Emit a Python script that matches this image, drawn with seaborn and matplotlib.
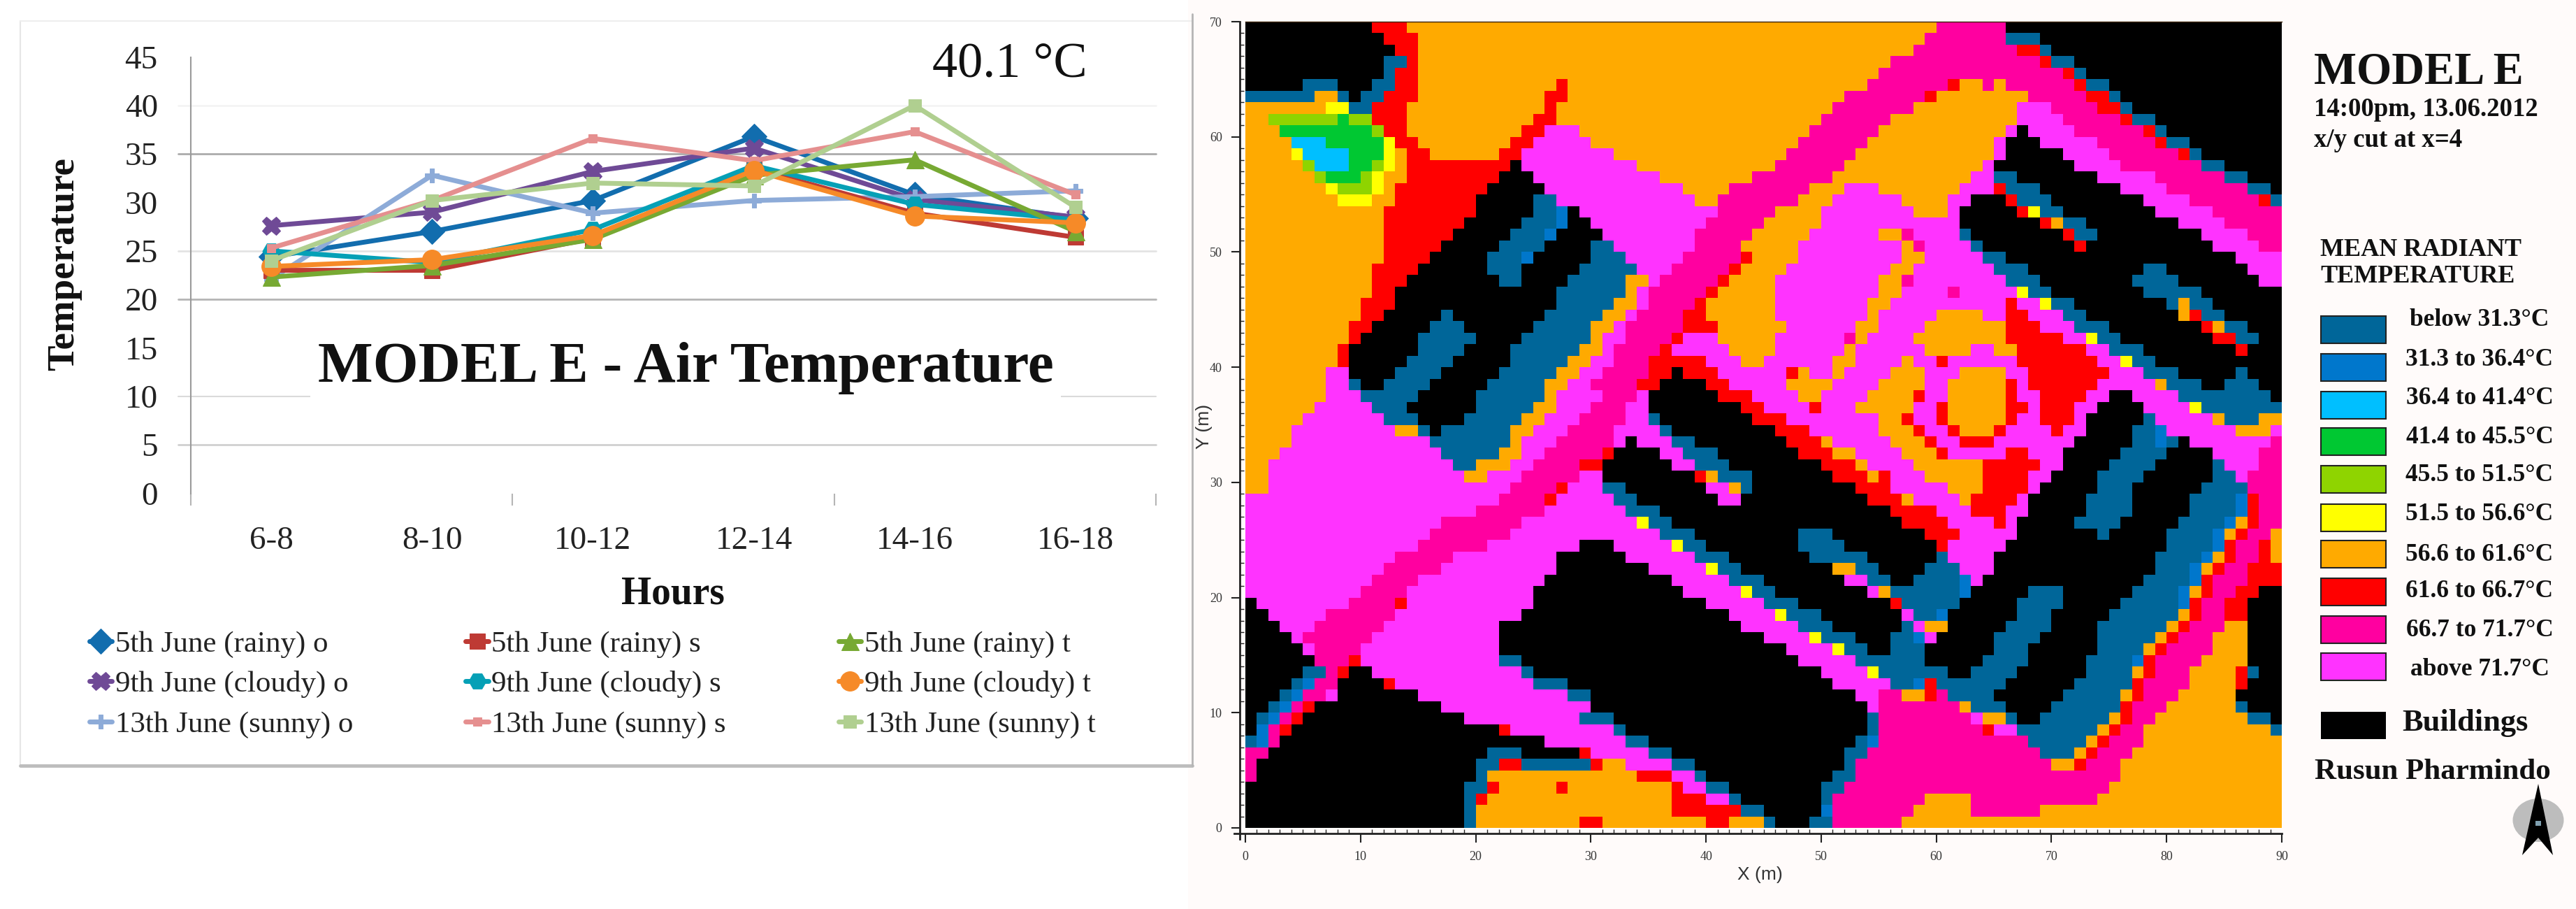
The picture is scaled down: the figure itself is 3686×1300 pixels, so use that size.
import re
import numpy as np
import seaborn as sns
import matplotlib
matplotlib.use('Agg')
import matplotlib.pyplot as plt
from matplotlib.colors import ListedColormap
from matplotlib.lines import Line2D
from matplotlib.patches import Rectangle, Ellipse, Polygon
from matplotlib.ticker import FixedLocator, MultipleLocator

W, H = 3686, 1300

# left chart data
HOURS = ['6-8', '8-10', '10-12', '12-14', '14-16', '16-18']
RAINY_O = [24.4, 27.0, 30.2, 36.8, 30.8, 28.4]
RAINY_S = [23.0, 23.0, 26.3, 33.5, 28.9, 26.4]
RAINY_T = [22.3, 23.5, 26.2, 32.8, 34.4, 27.0]
CLOUDY_O = [27.6, 29.0, 33.2, 35.6, 30.3, 28.5]
CLOUDY_S = [25.0, 23.8, 27.2, 33.8, 29.8, 28.2]
CLOUDY_T = [23.4, 24.1, 26.6, 33.3, 28.6, 27.9]
SUNNY_O = [22.1, 32.8, 28.9, 30.2, 30.6, 31.2]
SUNNY_S = [25.3, 30.2, 36.6, 34.3, 37.3, 30.8]
SUNNY_T = [24.0, 30.2, 32.0, 31.7, 40.0, 29.5]

SERIES_LABELS = ['5th June (rainy) o', '9th June (cloudy) o', '13th June (sunny) o',
                 '5th June (rainy) s', '9th June (cloudy) s', '13th June (sunny) s',
                 '5th June (rainy) t', '9th June (cloudy) t', '13th June (sunny) t']
SERIES_VALUES = [RAINY_O, CLOUDY_O, SUNNY_O, RAINY_S, CLOUDY_S, SUNNY_S, RAINY_T, CLOUDY_T, SUNNY_T]
SERIES_COLORS = ['#126DAE', '#6F4A96', '#8DABD8', '#BE3A34', '#05A0B6', '#E58F8F', '#77A933', '#F68A28', '#B0CF90']
SERIES_MARKERS = ['D', 'X', 'P', 's', 'H', 's', '^', 'o', 's']
SERIES_SIZES = [18, 19, 15, 16, 18, 9, 18, 20, 13]

# map cells, run length coded, one string per row from top to bottom
MAP_TOP_LEFT = [
    '11K3R16O', '12K3R15O', '13K2R15O', '12K2B1R15O', '12K1B2R15O', '5K3B3K2B2R12O1R2O',
    '6B2O1B1K2B3R11O2R2O', '7O2Y2B3R12O1R3O', '2O6L1G2L3R11O2R3O', '3O8G1L2R10O2R3P1O',
    '4O3C5G1Y2R8O2R5P', '4O1Y4C3G1Y1O2R6O2R6P', '5O1L3C2G1L1Y1O9R1K6P', '6O1L3G1L1Y2O8R3K5P',
    '7O1Y3L1Y1O8R5K4P', '8O3Y2O7R5K2B3P', '12O8R5K2B1A1K1P', '12O7R5K3B1A2K', '12O6R5K3B1A3K',
    '12O5R5K4B4K', '12O4R5K3B1A5K', '11O4R6K3B5K1B', '11O3R8K2B4K2B', '11O2R14K3B', '10O3R14K3B',
    '10O2R5K1B8K4B', '9O2R5K3B6K5B', '9O1R5K5B4K6B', '8O1R6K4B4K6B1O', '8O1R5K4B5K5B2O',
    '7O2P4K4B5K5B2O1P', '7O2P1B2K4B5K5B2O2P', '7O3P5B5K6B1O3P', '6O5P3B6K5B2O3P', '5O7P3B4K5B2O3P1M',
]
MAP_TOP_MID = [
    '30O', '29O1M', '28O2M', '26O4M', '25O5M', '24O6M', '22O7M1R', '21O7M2O', '20O6M4O', '19O6M5O',
    '18O6M6O', '2P15O6M7O', '4P12O6M8O', '6P8O7M9O', '8P4O7M3O3P5O', '9P2O7M3O6P3O', '11P5M4O8P2O',
    '10P5M5O10P', '1K8P5M5O6P2O1M2P', '2B7P4M5O9P1O1M1P', '3B5P5M1R4O9P2O1P', '4B3P5M1R4O9P2O2P',
    '3B2O1P5M1R4O9P2O1M2P', '3B1O1P5M1R5O9P2O3P', '2B2O1P4M1R6O8P2O4P', '1B2O1P4M2R6O8P1O5P',
    '2O1P5M3R6O6P2O4P1O', '1O2P4M1R3P5O6P1M1O4P2O', '1O1P4M1R5P4O6P1O6P1O', '2P3M5R3P2O6P2O4P1O2P',
    '1P4M2R1K3R6P1R1O2P1O4P3O1P', '4M2R4K2R5P4O4P4O1P', '1P3M1P6K3R4P2O4P4O1R1P',
    '3M2P8K2R4P1R3P5O2P', '3M2P1B8K3R8P2O1R2P',
]
MAP_TOP_RIGHT = [
    '6M24K', '6M3B21K', '7M2R1B20K', '9M1R2B18K', '11M1R1B17K', '1M1R2O1M1O6M1R2B15K', '8O5M2R1B14K',
    '7O3P4M2R1B13K', '7O4P5M1R2B11K', '6O1P1K4P6M1R1B10K', '5O1P3K5P5M1R2B8K', '5O1P5K4P6M1R1B7K',
    '4O1P7K4P7M2B5K', '3O2P2B7K5P6M2B3K', '2O3P1R3B7K4P7M2B1K', '1O2P3K1R3B8K4P6M1R1B',
    '1O1P5K1R1Y2B8K5P6M', '2P7K1R1O2B8K4P5M', '2P1B8K1R2B9K4P3M', '3P1B8K1R11K4P2M', '4P2B20K4P',
    '5P3B10K2B7K3P', '6P3B8K4B7K2P', '1P1M5P1Y2B8K5B7K', '6P1R2P1Y2B8K1B1O2B6K', '4O2P2R3P2B8K1O1R2B5K',
    '6O3R3P3B8K1R1O2B3K', '6O5R2P1Y2B8K2R2B2K', '3O2P2O6R2P3B8K1R3K', '1R6P7R2P1Y2B11K',
    '2P4O2P7R3P3B5K1B3K', '1P5O1R1P6R5P1O3B2K3B2K', '1P5O1R2P4R2P2K4P8B1K', '1R5O2R1P3R2P4K4P1Y7B',
    '1R5O1R2P3R1P5K1B5P1O3B2O',
]
MAP_BOTTOM_LEFT = [
    '4O9P2O1B1K6B2O3P2M', '4O12P7B1O3P3M', '3O14P5B2O2P4M', '2O16P2B3O2P4M1R', '2O17P2O3P5M1P',
    '2O21P4M1R2P', '22P4M1R3P', '20P6M4P', '17P7M6P', '16P7M7P', '15P6M8P1K', '13P5M9P3K', '12P5M10P3K',
    '11P4M11P4K', '10P4M11P5K', '1K8P4M1R11P5K', '2K5P6M11P6K', '3K3P6M10P8K', '4K1P6M11P8K', '5K1P4M12P8K',
    '6K3M1R12P2B6K', '5K2B1M1R2K13P1B5K', '4K1B1A2M4K1R12P3B2K', '3K1B1A2M1P7K13P2B', '2K1B1A1M1R11K13P',
    '1K1B1A1M1R14K10P1B', '1K1A1M1R18K1R7P', '1B1A1M23K4P', '2M19K3B5K1R', '1M19K2B2R6B', '1M19K1B9O',
    '19K2B1R5O1R2O', '19K1B1R9O', '19K1B10O', '19K1B9O1R',
]
MAP_BOTTOM_MID = [
    '2M4P1B9K3R6P3O1R1P', '2M1P1K3P2B8K3R1O5P3O1R', '1M1R4K2P3B7K3R2O4P3O', '1R6K2P3B8K3R1O4P2O',
    '1P8K1R1O3B7K3R1O1R3P1O', '1P2B7K2P1O1B9K3R4P', '2P2B7K2P11K3R1O2P', '3P3B20K4R', '4P1Y2B20K3R',
    '6P3B9K3B8K1R', '2K5P1Y2B8K4B8K', '3K6P3B7K5B6K', '5K5P1Y2B8K2O2B4K1B', '7K5P3B7K2P2B2K2B',
    '8K5P1Y2B8K1P1O4B', '10K5P3B8K1R3B', '12K4P1Y3B7K1P2B', '13K5P3B6K1B1P1O', '15K4P1Y3B3K2B1A1P',
    '17K4P1Y2B2K3B1K', '18K5P6B1K', '20K4P1Y5B', '21K5P2B1A1R', '23K2P2M2O1R', '24K1P5M', '2B22K1B5M',
    '2P1B21K1B5M', '3P2B18K1B1A5M', '5P2B15K2B6M', '1R2O4P2B13K1B7M', '4O3R2P1B11K2B7M', '7O1R2P2B8K2B8M',
    '7O3R2P1B7K1B8M1O', '7O6R2B5K1A7M2O', '1R9O2R3O1B3K2B6M3O',
]
MAP_BOTTOM_RIGHT = [
    '1P1R3O1R4P1R2P4K2B1A6P3O1P', '2P3R7P5K2B1A1B1K7P1M', '1R5P2R3P5K4B4K4P2M', '4O5R2P4K4B5K1B3P2M',
    '4O4R2P4K4B6K2B1P3M', '1P3O4R1P5K3B6K4B3M', '2P1O4R1P5K4B5K4B1A1R2M', '3P3R2P5K4B5K4B1A1R2M',
    '1R4P1R1P5K4B5K4B1A1O1R2M', '2R5P7K1B5K4B1A1O1R2M1O', '1R5P14K4B1A1R2M1R1O', '1B4P14K4B1A1O1R2M1R1O',
    '2B3P14K3B1A1O1R2M3R', '2B1A1P14K4B1A1R3M3R', '2B1A5K3B6K4B1A1O1R2M2R2K', '2B5K4B5K5B1A1R2M2R3K',
    '1A6K3B5K6B1O1R2M2R3K', '1O5K4B4K6B1O1R3M2O3K', '5K4B5K5B1O1R3M3O3K', '5K3B6K4B1O1R4M3O3K',
    '4K4B5K4B1A1R4M4O3K', '1B2K4B6K4B1O1R3M4O1R1B2K', '6B6K5B1R4M4O1R3K', '1M4B6K5B1O1R3M5O4K',
    '2M1O3B4K6B1R3M6O1B3K', '3M1P2O1B2K6B1O1R2M8O2B1K', '4M1R2P7B1O1R2M11O1B', '8M5B1O1R3M12O',
    '9M3B1O1R3M13O', '10M2O1R3M14O', '16M14O', '15M15O', '3O11M16O', '3O6M21O', '30O',
]

MAP_CODES = 'BACGLYORMPK'
MAP_COLORS = ['#006699', '#0077CC', '#00BFFF', '#00C832', '#8FD400', '#FFFF00',
              '#FFAA00', '#FF0000', '#FF00A0', '#FF33FF', '#000000']
LEGEND_LABELS = ['below 31.3°C', '31.3 to 36.4°C', '36.4 to 41.4°C', '41.4 to 45.5°C', '45.5 to 51.5°C',
                 '51.5 to 56.6°C', '56.6 to 61.6°C', '61.6 to 66.7°C', '66.7 to 71.7°C', 'above 71.7°C']


def decode(rows):
    out = []
    for row in rows:
        cells = []
        for n, c in re.findall(r'(\d+)([A-Z])', row):
            cells += [MAP_CODES.index(c)] * int(n)
        assert len(cells) == 30, row
        out.append(cells)
    return np.array(out)


def fx(x):
    return x / W


def fy(y):
    return 1 - y / H


top = np.hstack([decode(MAP_TOP_LEFT), decode(MAP_TOP_MID), decode(MAP_TOP_RIGHT)])
bottom = np.hstack([decode(MAP_BOTTOM_LEFT), decode(MAP_BOTTOM_MID), decode(MAP_BOTTOM_RIGHT)])
grid = np.vstack([top, bottom])

sns.set_theme(style='white')
plt.rcParams['font.family'] = ['Liberation Serif', 'DejaVu Serif']

fig = plt.figure(figsize=(W / 100, H / 100), dpi=100, facecolor='white')

# background and panel frames
fig.add_artist(Rectangle((fx(1700), 0), fx(W - 1700), 1, transform=fig.transFigure, fc='#FFFBFA', ec='none', zorder=-5))
fig.add_artist(Line2D([fx(29), fx(29)], [fy(30), fy(1095)], color='#E6E6E6', lw=1.5))
fig.add_artist(Line2D([fx(29), fx(1706)], [fy(30), fy(30)], color='#EEEEEE', lw=1.5))
fig.add_artist(Line2D([fx(29), fx(1706)], [fy(1095), fy(1095)], color='#BDBDBD', lw=3.5))
fig.add_artist(Line2D([fx(1706), fx(1706)], [fy(20), fy(1095)], color='#B5B5B5', lw=2))

# line chart
ax = fig.add_axes([fx(273), fy(705.5), fx(1381), 624 / H])
for label, values, color, marker, size in zip(SERIES_LABELS, SERIES_VALUES, SERIES_COLORS, SERIES_MARKERS, SERIES_SIZES):
    sns.lineplot(x=HOURS, y=values, ax=ax, color=color, marker=marker, markersize=size, lw=5,
                 markeredgecolor=color, label=label, sort=False, zorder=3)

ax.set_xlim(-0.5, 5.5)
ax.set_ylim(0, 45)
ax.set_yticks(range(0, 50, 5))
for side in ['top', 'right', 'bottom']:
    ax.spines[side].set_visible(False)
ax.spines['left'].set_color('#9A9A9A')
ax.spines['left'].set_linewidth(1.5)
ax.spines['left'].set_bounds(0, 45)
ax.tick_params(axis='x', which='major', length=0, labelsize=34, pad=34, labelcolor='#222222')
ax.tick_params(axis='y', which='major', length=0, labelsize=34, pad=34, labelcolor='#222222')
ax.xaxis.set_minor_locator(FixedLocator([-0.5, 1.5, 3.5, 5.5]))
ax.tick_params(axis='x', which='minor', length=12, width=1.5, color='#B5B5B5', bottom=True)

# the gridlines have different greys in the reference
for level, shade, lw in [(5, '#D0D0D0', 2), (10, '#DADADA', 1.5), (20, '#B5B5B5', 2), (25, '#E4E4E4', 2),
                         (35, '#ABABAB', 2), (40, '#F4F4F4', 2)]:
    ax.plot([-0.013, 1], [level, level], transform=ax.get_yaxis_transform(), color=shade, lw=lw,
            clip_on=False, zorder=1)

ax.set_xlabel('Hours', fontsize=40, fontweight='bold', color='#111111', va='center')
ax.xaxis.set_label_coords(0.4996, -0.23)
ax.set_ylabel('Temperature', fontsize=39.5, fontweight='bold', color='#111111', va='center')
ax.yaxis.set_label_coords(-0.131, 0.525)

ax.legend(ncol=3, frameon=False, fontsize=31, handlelength=0.75, handletextpad=0.1, columnspacing=3.75,
          labelspacing=0.42, borderpad=0, borderaxespad=0, loc='upper left',
          bbox_to_anchor=(fx(128), fy(902)), bbox_transform=fig.transFigure, labelcolor='#222222')

fig.text(fx(981), fy(526), 'MODEL E - Air Temperature', fontsize=60, fontweight='bold', color='#111111',
         ha='center', va='center', bbox=dict(fc='white', ec='none', pad=8), zorder=5)
fig.text(fx(1445), fy(92), '40.1 °C', fontsize=52, color='#111111', ha='center', va='center')

# map
ax2 = fig.add_axes([fx(1782), fy(1184), fx(1483), 1153 / H])
sns.heatmap(grid, ax=ax2, cmap=ListedColormap(MAP_COLORS), vmin=-0.5, vmax=10.5, cbar=False,
            xticklabels=False, yticklabels=False)
ax2.set_xticks(range(0, 100, 10))
ax2.set_xticklabels([str(v) for v in range(0, 100, 10)], family='Liberation Sans')
ax2.set_yticks(range(0, 80, 10))
ax2.set_yticklabels([str(70 - v) for v in range(0, 80, 10)], family='Liberation Sans', rotation=0)
ax2.xaxis.set_minor_locator(MultipleLocator(1))
ax2.yaxis.set_minor_locator(MultipleLocator(1))
ax2.tick_params(which='major', length=9, width=1.5, direction='out', left=True, bottom=True,
                labelsize=13, labelcolor='#333333', pad=9, color='#222222')
ax2.tick_params(which='minor', length=4, width=1, direction='in', left=True, bottom=True, color='#222222')
for side in ['left', 'bottom']:
    ax2.spines[side].set_visible(True)
    ax2.spines[side].set_position(('outward', 6))
    ax2.spines[side].set_color('#222222')
    ax2.spines[side].set_linewidth(2)
ax2.spines['left'].set_bounds(0, 71)
ax2.spines['bottom'].set_bounds(-1, 90)
ax2.spines['top'].set_visible(True)
ax2.spines['top'].set_color('#3A2408')
ax2.spines['top'].set_linewidth(1)
ax2.set_xlabel('X (m)', family='Liberation Sans', fontsize=19, color='#333333', va='center')
ax2.xaxis.set_label_coords((2518 - 1782) / 1483, (1184 - 1251) / 1153)
ax2.set_ylabel('Y (m)', family='Liberation Sans', fontsize=19, color='#333333', va='center')
ax2.yaxis.set_label_coords((1723 - 1782) / 1483, (1184 - 610) / 1153)

# right hand text and colour key
fig.text(fx(3311), fy(103), 'MODEL E', fontsize=46.5, fontweight='bold', color='#111111', va='center')
fig.text(fx(3311), fy(156), '14:00pm, 13.06.2012', fontsize=26.5, fontweight='bold', color='#111111', va='center')
fig.text(fx(3311), fy(201), 'x/y cut at x=4', fontsize=26.5, fontweight='bold', color='#111111', va='center')
fig.text(fx(3320), fy(357), 'MEAN RADIANT', fontsize=26, fontweight='bold', color='#111111', va='center')
fig.text(fx(3320), fy(396), 'TEMPERATURE', fontsize=26, fontweight='bold', color='#111111', va='center')

key_tops = [452, 506, 560, 612, 666, 721, 773, 827, 881, 934]
key_text = [458, 514, 570, 626, 680, 736, 793, 846, 902, 958]
for color, label, y0, yt in zip(MAP_COLORS[:10], LEGEND_LABELS, key_tops, key_text):
    fig.add_artist(Rectangle((fx(3321), fy(y0 + 39)), 93 / W, 39 / H, transform=fig.transFigure,
                             fc=color, ec='#222222', lw=1.5))
    fig.text(fx(3548), fy(yt), label, fontsize=25.5, fontweight='bold', color='#111111', ha='center', va='center')
fig.add_artist(Rectangle((fx(3321), fy(1057)), 93 / W, 39 / H, transform=fig.transFigure, fc='black', ec='none'))
fig.text(fx(3437), fy(1034), 'Buildings', fontsize=32, fontweight='bold', color='#111111', va='center')
fig.text(fx(3312), fy(1104), 'Rusun Pharmindo', fontsize=31, fontweight='bold', color='#111111', va='center')

# north arrow
fig.add_artist(Ellipse((fx(3632), fy(1173)), 73 / W, 62 / H, transform=fig.transFigure, fc='#BDBDBD', ec='none'))
arrow = [(3632, 1121), (3653, 1223), (3632, 1198), (3609, 1223)]
fig.add_artist(Polygon([(fx(x), fy(y)) for x, y in arrow], transform=fig.transFigure, fc='black', ec='none'))
fig.add_artist(Rectangle((fx(3628), fy(1181)), 8 / W, 7 / H, transform=fig.transFigure, fc='#7FA0B0', ec='none'))

fig.savefig('out.png', dpi=100, facecolor=fig.get_facecolor())
